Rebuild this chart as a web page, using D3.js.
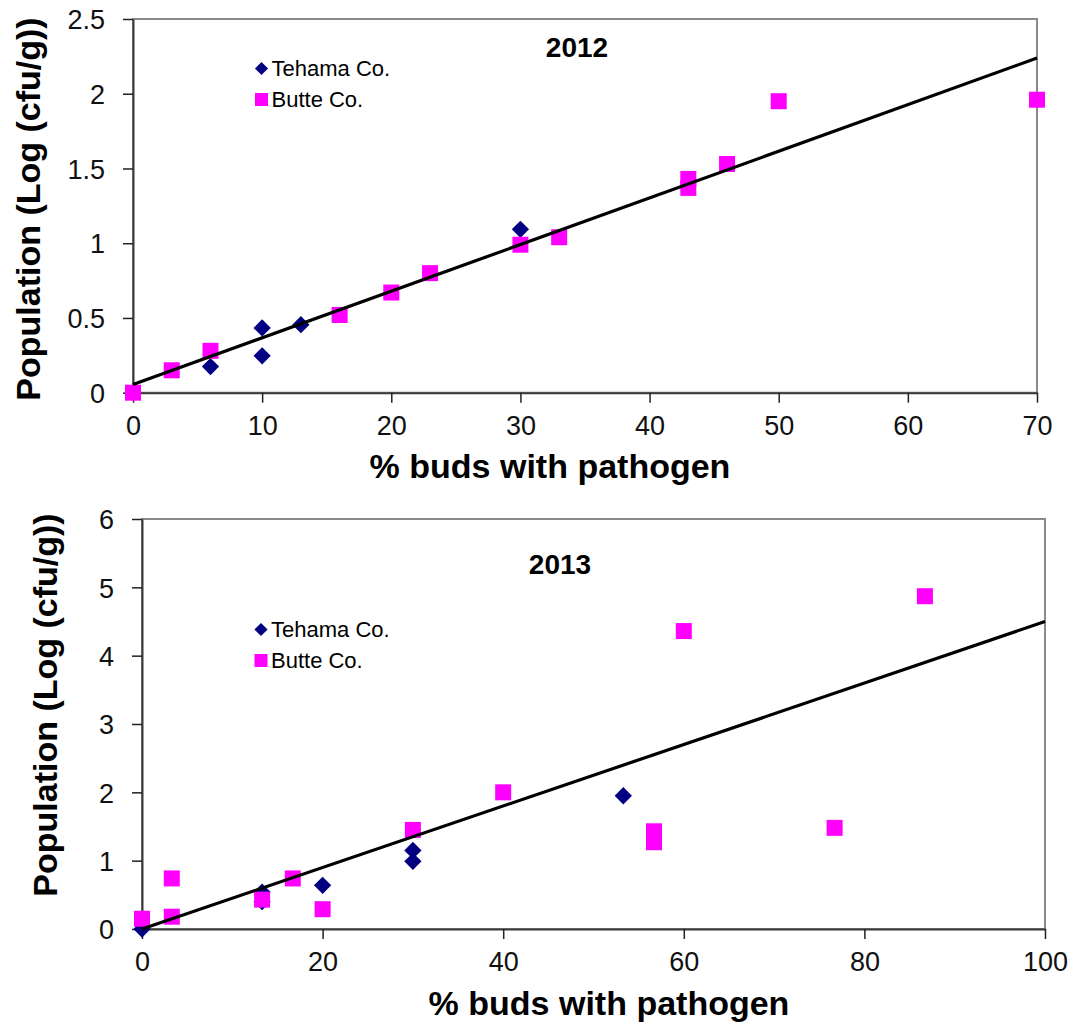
<!DOCTYPE html>
<html>
<head>
<meta charset="utf-8">
<script src="https://cdn.jsdelivr.net/npm/d3@7"></script>
<style>
  html, body { margin: 0; padding: 0; background: #fff; }
  svg { display: block; font-family: "Liberation Sans", Arial, sans-serif; }
</style>
</head>
<body>
<svg id="chart" width="1072" height="1026"></svg>
<script>
// ---- 2012 survey ----
const tehama2012X = [6, 10, 10, 13, 30];
const tehama2012Y = [0.175, 0.433, 0.247, 0.455, 1.093];
const butte2012X = [0, 3, 6, 16, 20, 23, 30, 33, 43, 43, 46, 50, 70];
const butte2012Y = [0, 0.15, 0.28, 0.52, 0.67, 0.80, 0.99, 1.04, 1.43, 1.37, 1.53, 1.95, 1.96];
const xTicks2012 = [0, 10, 20, 30, 40, 50, 60, 70];
const yTicks2012 = [0, 0.5, 1, 1.5, 2, 2.5];
// trendline: [intercept, slope], drawn over [x0, x1]
const trend2012 = [0.055, 0.0312];
const trendRange2012 = [0, 70];

// ---- 2013 survey ----
const tehama2013X = [0, 13.3, 13.3, 20, 30, 30, 53.3];
const tehama2013Y = [0, 0.54, 0.40, 0.64, 1.15, 0.99, 1.95];
const butte2013X = [0, 3.3, 3.3, 13.3, 16.7, 20, 30, 40, 56.7, 56.7, 60, 76.7, 86.7];
const butte2013Y = [0.15, 0.74, 0.18, 0.43, 0.74, 0.29, 1.45, 2.0, 1.43, 1.27, 4.36, 1.48, 4.87];
const xTicks2013 = [0, 20, 40, 60, 80, 100];
const yTicks2013 = [0, 1, 2, 3, 4, 5, 6];
const trend2013 = [0.0, 0.045];
const trendRange2013 = [0, 100];

const seriesNames = ["Tehama Co.", "Butte Co."];
const xTitle = "% buds with pathogen";
const yTitle = "Population (Log (cfu/g))";

const COLORS = { tehama: "#000080", butte: "#ff00ff" };
const svg = d3.select("#chart");

function zip(xs, ys) { return xs.map((x, i) => ({ x, y: ys[i] })); }

function drawPanel(cfg) {
  const { left, right, top, bottom } = cfg.box;
  const x = d3.scaleLinear().domain(cfg.xDomain).range([left, right]);
  const y = d3.scaleLinear().domain(cfg.yDomain).range([bottom, top]);
  const g = svg.append("g");

  // plot frame
  g.append("rect")
    .attr("x", left).attr("y", top)
    .attr("width", right - left).attr("height", bottom - top)
    .attr("fill", "none").attr("stroke", "#8a8a8a").attr("stroke-width", 2);

  const fmt = d => String(d);
  const xAxis = g.append("g").attr("transform", `translate(0,${bottom})`)
    .call(d3.axisBottom(x).tickValues(cfg.xTicks).tickFormat(fmt)
      .tickSizeInner(10).tickSizeOuter(0).tickPadding(13));
  const yAxis = g.append("g").attr("transform", `translate(${left},0)`)
    .call(d3.axisLeft(y).tickValues(cfg.yTicks).tickFormat(fmt)
      .tickSizeInner(10).tickSizeOuter(0).tickPadding(18));
  [xAxis, yAxis].forEach(a => {
    a.select(".domain").attr("stroke", "#3a3a3a").attr("stroke-width", 2);
    a.selectAll(".tick line").attr("stroke", "#222").attr("stroke-width", 1.5);
    a.selectAll(".tick text")
      .attr("fill", "#111")
      .style("font-size", "27px")
      .style("font-family", "'Liberation Sans', Arial, sans-serif");
  });
  yAxis.selectAll(".tick text").attr("dy", "0.36em");

  // Tehama diamonds
  const dSym = d3.symbol().type(d3.symbolDiamond2).size(190);
  g.append("g").selectAll("path")
    .data(zip(cfg.tehamaX, cfg.tehamaY)).join("path")
    .attr("d", dSym)
    .attr("transform", d => `translate(${x(d.x)},${y(d.y)})`)
    .attr("fill", COLORS.tehama);

  // Butte squares
  const sq = 16;
  g.append("g").selectAll("rect")
    .data(zip(cfg.butteX, cfg.butteY)).join("rect")
    .attr("x", d => x(d.x) - sq / 2).attr("y", d => y(d.y) - sq / 2)
    .attr("width", sq).attr("height", sq)
    .attr("fill", COLORS.butte);

  // linear trendline
  const [b0, b1] = cfg.trend;
  const line = d3.line().x(d => x(d)).y(d => y(b0 + b1 * d));
  g.append("path")
    .attr("d", line(cfg.trendRange))
    .attr("fill", "none").attr("stroke", "#000").attr("stroke-width", 3.2);

  // year label
  g.append("text")
    .attr("x", cfg.titlePos[0]).attr("y", cfg.titlePos[1])
    .attr("text-anchor", "middle")
    .style("font-size", "28px").style("font-weight", "bold")
    .text(cfg.title);

  // legend
  const [lx, ly] = cfg.legendPos;
  const leg = g.append("g");
  leg.append("path")
    .attr("d", d3.symbol().type(d3.symbolDiamond2).size(110)())
    .attr("transform", `translate(${lx},${ly})`)
    .attr("fill", COLORS.tehama);
  leg.append("text").attr("x", lx + 10).attr("y", ly + 7)
    .style("font-size", "22px").text(seriesNames[0]);
  leg.append("rect").attr("x", lx - 6.5).attr("y", ly + 31 - 6.5)
    .attr("width", 13).attr("height", 13).attr("fill", COLORS.butte);
  leg.append("text").attr("x", lx + 10).attr("y", ly + 31 + 7)
    .style("font-size", "22px").text(seriesNames[1]);

  // axis titles
  g.append("text")
    .attr("x", cfg.xTitlePos[0]).attr("y", cfg.xTitlePos[1])
    .attr("text-anchor", "middle")
    .style("font-size", "34px").style("font-weight", "bold")
    .text(xTitle);
  g.append("text")
    .attr("transform", `translate(${cfg.yTitlePos[0]},${cfg.yTitlePos[1]}) rotate(-90)`)
    .attr("text-anchor", "middle")
    .style("font-size", "34px").style("font-weight", "bold")
    .text(yTitle);
}

drawPanel({
  box: { left: 133, right: 1037, top: 19, bottom: 392.7 },
  xDomain: [0, 70], yDomain: [0, 2.5],
  xTicks: xTicks2012, yTicks: yTicks2012,
  tehamaX: tehama2012X, tehamaY: tehama2012Y,
  butteX: butte2012X, butteY: butte2012Y,
  trend: trend2012, trendRange: trendRange2012,
  title: "2012", titlePos: [577, 57],
  legendPos: [261.5, 68.5],
  xTitlePos: [550, 478],
  yTitlePos: [40, 209]
});

drawPanel({
  box: { left: 142, right: 1045, top: 519, bottom: 929 },
  xDomain: [0, 100], yDomain: [0, 6],
  xTicks: xTicks2013, yTicks: yTicks2013,
  tehamaX: tehama2013X, tehamaY: tehama2013Y,
  butteX: butte2013X, butteY: butte2013Y,
  trend: trend2013, trendRange: trendRange2013,
  title: "2013", titlePos: [560, 574],
  legendPos: [261, 629.5],
  xTitlePos: [609, 1015],
  yTitlePos: [57, 705]
});
</script>
</body>
</html>
